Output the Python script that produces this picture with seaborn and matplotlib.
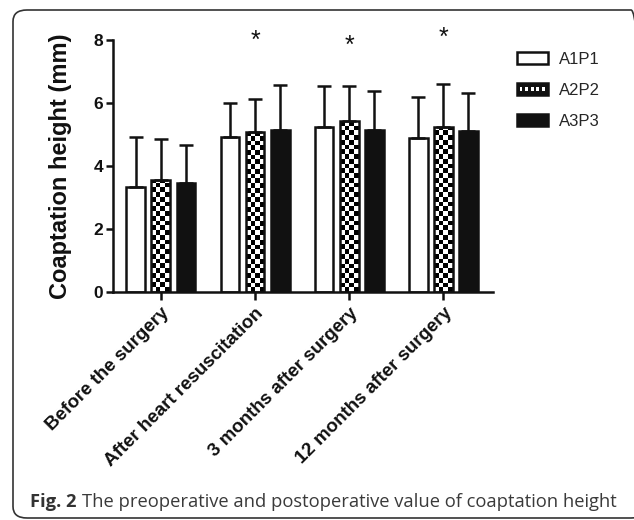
import numpy as np
import pandas as pd
import matplotlib
matplotlib.use("Agg")
import matplotlib.pyplot as plt
import seaborn as sns
from matplotlib.patches import Rectangle, FancyBboxPatch, Patch
from matplotlib.legend_handler import HandlerBase

# values (mean and upper SD)
timepoints = ["Before the surgery", "After heart resuscitation",
              "3 months after surgery", "12 months after surgery"]
groups = ["A1P1", "A2P2", "A3P3"]
a1p1_mean = [3.32, 4.91, 5.25, 4.90]
a2p2_mean = [3.56, 5.07, 5.43, 5.24]
a3p3_mean = [3.47, 5.14, 5.14, 5.11]
a1p1_sd = [1.59, 1.08, 1.29, 1.28]
a2p2_sd = [1.29, 1.07, 1.11, 1.35]
a3p3_sd = [1.19, 1.42, 1.25, 1.22]
star_y = [None, 7.97, 7.82, 8.07]

INK = "#111111"

means = [a1p1_mean, a2p2_mean, a3p3_mean]
sds = [a1p1_sd, a2p2_sd, a3p3_sd]
df = pd.DataFrame({
    "time": timepoints * len(groups),
    "group": np.repeat(groups, len(timepoints)),
    "value": np.concatenate(means),
})


class CheckerHandler(HandlerBase):
    """legend key for the checkered group"""
    def create_artists(self, legend, orig_handle, xdescent, ydescent,
                       width, height, fontsize, trans):
        arts = [Rectangle((-xdescent, -ydescent), width, height, facecolor=INK,
                          edgecolor=INK, lw=1.8, transform=trans)]
        n = 5
        w = width / (2 * n + 1)
        for i in range(n):
            arts.append(Rectangle((-xdescent + w * (2 * i + 1), -ydescent + height * 0.3),
                                  w, height * 0.4, facecolor="white",
                                  edgecolor="none", transform=trans))
        return arts


sns.set_style("ticks")
plt.rcParams["font.family"] = ["Liberation Sans", "DejaVu Sans"]

fig = plt.figure(figsize=(6.34, 5.2), dpi=100)
ax = fig.add_axes([0.178, 0.4385, 0.6, 0.4845])

sns.barplot(data=df, x="time", y="value", hue="group",
            palette=["white", "white", INK], width=0.8, gap=0.25,
            errorbar=None, edgecolor=INK, linewidth=1.8, legend=False, ax=ax)

ax.set_xlim(-0.51, 3.53)
ax.set_ylim(0, 8)

# error bars (upper only) and checker fill
bar_sets = list(ax.containers)
for i, cont in enumerate(bar_sets):
    xc = [p.get_x() + p.get_width() / 2 for p in cont]
    ax.errorbar(xc, means[i], yerr=[np.zeros(len(xc)), sds[i]], fmt="none",
                ecolor=INK, elinewidth=1.8, capsize=5, capthick=1.8, zorder=1)
    if i == 1:
        for p in cont:
            p.set_facecolor("none")
            x0, w = p.get_x(), p.get_width()
            h = p.get_height()
            cell = 0.15
            nr = int(np.ceil(h / cell))
            nc = 4
            board = (np.add.outer(np.arange(nr), np.arange(nc)) % 2).astype(float)
            im = ax.imshow(board, cmap="gray_r", vmin=0, vmax=1, aspect="auto",
                           extent=(x0, x0 + w, 0, nr * cell), origin="lower",
                           interpolation="nearest", zorder=p.get_zorder() - 0.01)
            im.set_clip_path(p)

ax.set_xlim(-0.51, 3.53)
ax.set_ylim(0, 8)
ax.set_yticks([0, 2, 4, 6, 8])

for x, y in enumerate(star_y):
    if y is not None:
        ax.text(x, y, "*", ha="center", va="center", fontsize=18,
                color=INK, clip_on=False)

sns.despine(ax=ax)
for s in ["left", "bottom"]:
    ax.spines[s].set_linewidth(1.8)
    ax.spines[s].set_color(INK)
ax.tick_params(axis="x", length=6, width=1.8, color=INK, pad=3)
ax.tick_params(axis="y", length=5, width=1.8, color=INK, pad=2)
ax.set_xlabel("")
ax.set_ylabel("Coaptation height (mm)", fontsize=17, fontweight="bold",
              color=INK, labelpad=15.5)
plt.setp(ax.get_xticklabels(), rotation=45, ha="right", va="top",
         rotation_mode="anchor", fontsize=13.5, fontweight="bold", color=INK)
plt.setp(ax.get_yticklabels(), fontsize=12.5, fontweight="bold", color=INK)

handles = [Patch(facecolor="white", edgecolor=INK, lw=1.8),
           Patch(facecolor=INK, edgecolor=INK),
           Patch(facecolor=INK, edgecolor=INK, lw=1.8)]
fig.legend(handles, groups, loc="upper left", bbox_to_anchor=(0.802, 0.916),
           frameon=False, fontsize=12, handlelength=1.85, handleheight=0.75,
           handletextpad=0.7, labelspacing=0.95, borderpad=0,
           handler_map={handles[1]: CheckerHandler()})

# panel frame (right edge runs off the image) and caption
W, H = 634, 520
frame = FancyBboxPatch((13 / W, 2 / H), 632 / W, 508 / H,
                       boxstyle="round,pad=0,rounding_size=0.022",
                       transform=fig.transFigure, fill=False,
                       edgecolor="#333333", lw=1.2)
fig.patches.append(frame)

t1 = fig.text(30 / W, 1 - 507 / H, "Fig. 2", fontsize=13.2, fontweight="bold",
              family=["Open Sans", "DejaVu Sans"], color="#333333", va="baseline")
r = fig.canvas.get_renderer()
bb = t1.get_window_extent(r)
fig.text(bb.x1 / W + 5 / W, 1 - 507 / H,
         "The preoperative and postoperative value of coaptation height",
         fontsize=13.2, family=["Open Sans", "DejaVu Sans"], color="#3a3a3a",
         va="baseline")

fig.savefig("out.png", dpi=100)
